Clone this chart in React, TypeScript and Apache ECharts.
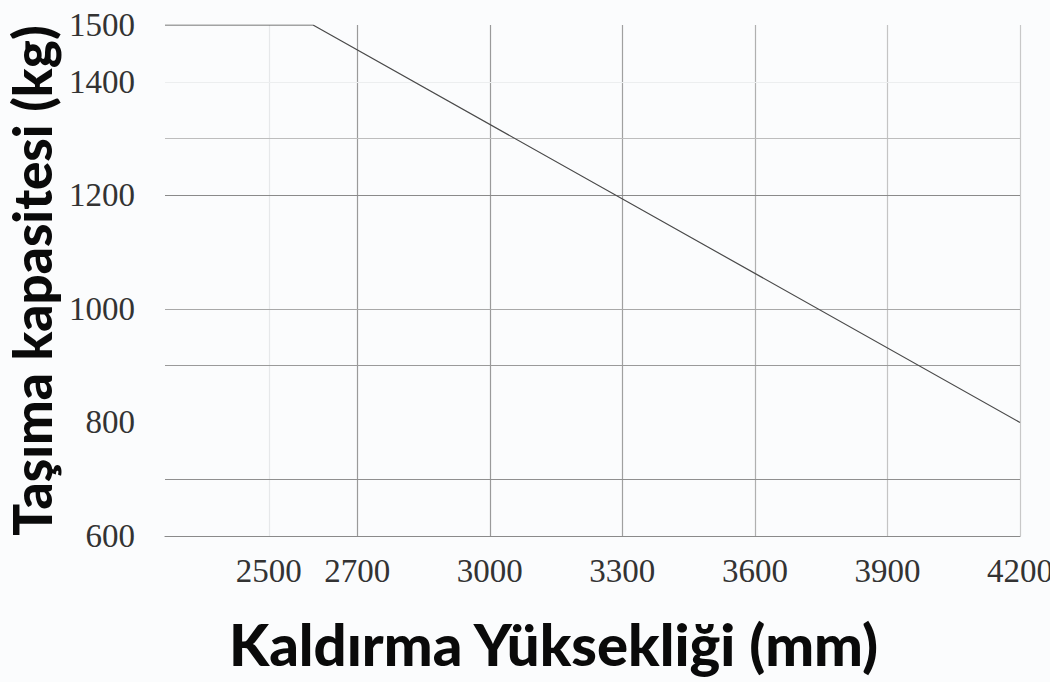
import React, { useEffect, useRef } from "react";
import * as echarts from "echarts";

const liftHeights = [2265, 2600, 4200];
const capacities = [1500, 1500, 800];
const xTickLabels = [2500, 2700, 3000, 3300, 3600, 3900, 4200];
const yTickLabels = [600, 800, 1000, 1200, 1400, 1500];
const vGridValues = [2500, 2700, 3000, 3300, 3600, 3900, 4200];
const vGridColors = ["#e6e8ea", "#9a9a9a", "#9a9a9a", "#a0a0a0", "#b0b0b0", "#c4c4c4", "#c8c8c8"];
const hGridValues = [1400, 1300, 1200, 1000, 900, 700];
const hGridColors = ["#eceeef", "#bdbdbd", "#8a8a8a", "#a8a8a8", "#9a9a9a", "#8f8f8f"];

export default function App() {
  const ref = useRef<HTMLDivElement>(null);
  useEffect(() => {
    document.body.style.margin = "0";
    const chart = echarts.init(ref.current!, undefined, { renderer: "svg" });
    const marks: any[] = [];
    vGridValues.forEach((v, i) =>
      marks.push({ xAxis: v, lineStyle: { color: vGridColors[i], width: 1.2, type: "solid" } })
    );
    hGridValues.forEach((v, i) =>
      marks.push({ yAxis: v, lineStyle: { color: hGridColors[i], width: 1.2, type: "solid" } })
    );
    chart.setOption({
      animation: false,
      backgroundColor: "#fbfcfd",
      grid: { left: 165, right: 30, top: 25, bottom: 146, outerBoundsMode: "none", containLabel: false },
      xAxis: {
        type: "value",
        min: 2265,
        max: 4200,
        name: "Kaldırma Yüksekliği (mm)",
        nameLocation: "middle",
        nameGap: 78,
        nameTextStyle: {
          fontFamily: "Lato",
          fontWeight: 900,
          fontSize: 58,
          color: "#0a0a0a",
          padding: [0, 78, 0, 0],
        },
        axisLine: { show: true, lineStyle: { color: "#8a8a8a", width: 1.2 } },
        axisTick: { show: false },
        splitLine: { show: false },
        axisLabel: {
          customValues: xTickLabels,
          formatter: (v: number) => String(v),
          margin: 18,
          fontFamily: "Liberation Serif",
          fontSize: 33,
          color: "#333",
        },
      },
      yAxis: {
        type: "value",
        min: 600,
        max: 1500,
        name: "Taşıma kapasitesi (kg)",
        nameLocation: "middle",
        nameGap: 106,
        nameRotate: 90,
        nameTextStyle: {
          fontFamily: "Lato",
          fontWeight: 900,
          fontSize: 53,
          color: "#0a0a0a",
        },
        axisLine: { show: false },
        axisTick: { show: false },
        splitLine: { show: false },
        axisLabel: {
          customValues: yTickLabels,
          formatter: (v: number) => String(v),
          margin: 30,
          fontFamily: "Liberation Serif",
          fontSize: 33,
          color: "#333",
        },
      },
      series: [
        {
          type: "line",
          data: liftHeights.map((x, i) => [x, capacities[i]]),
          symbol: "none",
          lineStyle: { color: "#4a4a4a", width: 1.2 },
          markLine: {
            silent: true,
            symbol: "none",
            label: { show: false },
            data: marks,
          },
          z: 5,
        },
      ],
    });
    return () => chart.dispose();
  }, []);
  return <div ref={ref} style={{ width: 1050, height: 682 }} />;
}
